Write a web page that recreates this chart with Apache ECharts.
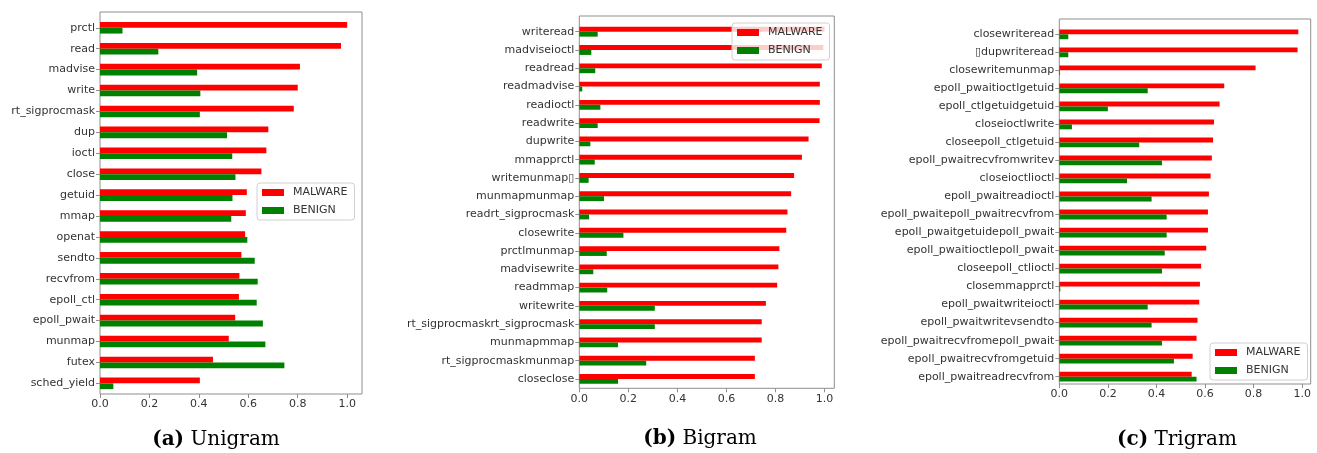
<!DOCTYPE html>
<html>
<head>
<meta charset="utf-8">
<script src="https://cdn.jsdelivr.net/npm/echarts@6/dist/echarts.min.js"></script>
<style>
  html, body { margin: 0; padding: 0; background: #fff; }
  #chart { width: 1317px; height: 453px; }
</style>
</head>
<body>
<div id="chart"></div>
<script>
// System-call n-gram frequencies, malware vs benign apps
const seriesNames = ['MALWARE', 'BENIGN'];
const seriesColors = ['#ff0000', '#008000'];
const tickValues = [0, 0.2, 0.4, 0.6, 0.8, 1.0];

const unigramLabels = ['prctl', 'read', 'madvise', 'write', 'rt_sigprocmask', 'dup', 'ioctl', 'close',
  'getuid', 'mmap', 'openat', 'sendto', 'recvfrom', 'epoll_ctl', 'epoll_pwait', 'munmap', 'futex', 'sched_yield'];
const unigramMalware = [1.0, 0.975, 0.809, 0.80, 0.784, 0.681, 0.673, 0.653,
  0.594, 0.59, 0.587, 0.572, 0.564, 0.562, 0.547, 0.521, 0.457, 0.404];
const unigramBenign = [0.091, 0.236, 0.393, 0.406, 0.404, 0.514, 0.535, 0.548,
  0.536, 0.531, 0.596, 0.626, 0.638, 0.634, 0.659, 0.669, 0.746, 0.054];

const bigramLabels = ['writeread', 'madviseioctl', 'readread', 'readmadvise', 'readioctl', 'readwrite',
  'dupwrite', 'mmapprctl', 'writemunmap\u25AF', 'munmapmunmap', 'readrt_sigprocmask', 'closewrite',
  'prctlmunmap', 'madvisewrite', 'readmmap', 'writewrite', 'rt_sigprocmaskrt_sigprocmask',
  'munmapmmap', 'rt_sigprocmaskmunmap', 'closeclose'];
const bigramMalware = [1.0, 0.995, 0.989, 0.981, 0.981, 0.98, 0.935, 0.908, 0.876, 0.864,
  0.849, 0.844, 0.816, 0.812, 0.807, 0.761, 0.744, 0.744, 0.716, 0.716];
const bigramBenign = [0.075, 0.049, 0.065, 0.012, 0.086, 0.075, 0.045, 0.063, 0.038, 0.101,
  0.04, 0.18, 0.112, 0.057, 0.114, 0.308, 0.308, 0.158, 0.273, 0.158];

const trigramLabels = ['closewriteread', '\u25AFdupwriteread', 'closewritemunmap', 'epoll_pwaitioctlgetuid',
  'epoll_ctlgetuidgetuid', 'closeioctlwrite', 'closeepoll_ctlgetuid', 'epoll_pwaitrecvfromwritev',
  'closeioctlioctl', 'epoll_pwaitreadioctl', 'epoll_pwaitepoll_pwaitrecvfrom', 'epoll_pwaitgetuidepoll_pwait',
  'epoll_pwaitioctlepoll_pwait', 'closeepoll_ctlioctl', 'closemmapprctl', 'epoll_pwaitwriteioctl',
  'epoll_pwaitwritevsendto', 'epoll_pwaitrecvfromepoll_pwait', 'epoll_pwaitrecvfromgetuid', 'epoll_pwaitreadrecvfrom'];
const trigramMalware = [0.984, 0.981, 0.808, 0.679, 0.66, 0.637, 0.633, 0.628, 0.623, 0.616,
  0.612, 0.612, 0.605, 0.584, 0.579, 0.576, 0.569, 0.565, 0.549, 0.545];
const trigramBenign = [0.037, 0.037, 0.003, 0.364, 0.2, 0.052, 0.329, 0.423, 0.279, 0.38,
  0.442, 0.442, 0.434, 0.423, 0.004, 0.364, 0.38, 0.423, 0.472, 0.565];

const captionTags = ['(a)', '(b)', '(c)'];
const captionNames = ['Unigram', 'Bigram', 'Trigram'];

const panels = [
  { labels: unigramLabels, values: [unigramMalware, unigramBenign] },
  { labels: bigramLabels, values: [bigramMalware, bigramBenign] },
  { labels: trigramLabels, values: [trigramMalware, trigramBenign] }
];

// Panel geometry (pixels)
const layout = [
  { left: 100, width: 262, frameTop: 12, frameBottom: 394, barTop: 17.3, barBottom: 393.8,
    max: 1.06, barWidth: 5.8, legendLeft: 257, legendTop: 183, capX: 216, capY: 440 },
  { left: 579.3, width: 255, frameTop: 16, frameBottom: 388.3, barTop: 22.6, barBottom: 388.1,
    max: 1.04, barWidth: 4.9, legendLeft: 732, legendTop: 23, capX: 700, capY: 438.5 },
  { left: 1059.3, width: 251.4, frameTop: 19, frameBottom: 384, barTop: 25.3, barBottom: 385.7,
    max: 1.035, barWidth: 4.9, legendLeft: 1210, legendTop: 343, capX: 1177, capY: 439.5 }
];

const FONT = 'DejaVu Sans';
const TEXT = '#333';
const FRAME = '#8e8e8e';

const grid = [], xAxis = [], yAxis = [], series = [], legend = [], graphic = [];

panels.forEach((panel, i) => {
  const g = layout[i];
  // frame grid: border box plus value ticks
  grid.push({ left: g.left, width: g.width, top: g.frameTop, height: g.frameBottom - g.frameTop,
    show: true, borderColor: FRAME, borderWidth: 1, backgroundColor: 'transparent' });
  // bar grid: category bands
  grid.push({ left: g.left, width: g.width, top: g.barTop, height: g.barBottom - g.barTop });

  xAxis.push({
    gridIndex: 2 * i, type: 'value', min: 0, max: g.max,
    axisLine: { show: false },
    splitLine: { show: false },
    axisTick: { show: true, length: 4, customValues: tickValues, lineStyle: { color: FRAME } },
    axisLabel: { customValues: tickValues, margin: 5, fontSize: 11, fontFamily: FONT, color: TEXT,
      formatter: v => v.toFixed(1) }
  });
  xAxis.push({ gridIndex: 2 * i + 1, type: 'value', min: 0, max: g.max, show: false });

  yAxis.push({ gridIndex: 2 * i, type: 'value', show: false });
  yAxis.push({
    gridIndex: 2 * i + 1, type: 'category', data: panel.labels, inverse: true,
    axisLine: { show: false },
    splitLine: { show: false },
    axisTick: { show: true, alignWithLabel: true, length: 4, lineStyle: { color: FRAME } },
    axisLabel: { margin: 5, fontSize: 11, fontFamily: FONT, color: TEXT, interval: 0 }
  });

  seriesNames.forEach((name, k) => {
    series.push({
      name: name, type: 'bar', xAxisIndex: 2 * i + 1, yAxisIndex: 2 * i + 1,
      data: panel.values[k], barWidth: g.barWidth, barGap: '0%',
      itemStyle: { color: seriesColors[k] }, animation: false
    });
  });

  legend.push({
    data: seriesNames, orient: 'vertical', left: g.legendLeft, top: g.legendTop,
    icon: 'rect', itemWidth: 22, itemHeight: 7, itemGap: 7,
    padding: [4, 7, 4, 5], borderColor: '#d0d0d0', borderWidth: 1, borderRadius: 3,
    backgroundColor: 'rgba(255,255,255,0.8)', selectedMode: false,
    textStyle: { fontSize: 11, fontFamily: FONT, color: TEXT, padding: [0, 0, 0, 4] }
  });

  graphic.push({
    type: 'text', x: g.capX, y: g.capY, z: 10,
    style: {
      text: '{b|' + captionTags[i] + '} ' + captionNames[i],
      rich: { b: { fontWeight: 'bold', fontFamily: 'DejaVu Serif', fontSize: 20, fill: '#000' } },
      fontFamily: 'DejaVu Serif', fontSize: 20, fill: '#000',
      align: 'center', verticalAlign: 'middle'
    }
  });
});

const chart = echarts.init(document.getElementById('chart'), null, { renderer: 'canvas' });
chart.setOption({
  animation: false,
  backgroundColor: '#fff',
  grid, xAxis, yAxis, series, legend, graphic
});
</script>
</body>
</html>
